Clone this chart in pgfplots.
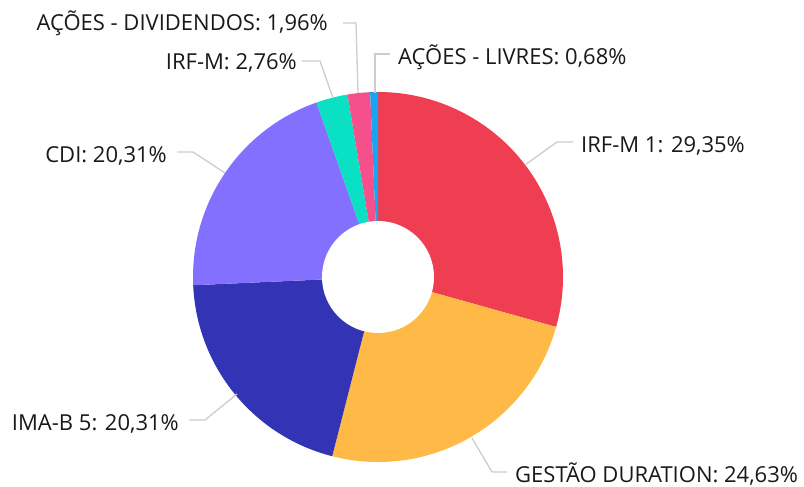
\documentclass[border=0pt]{standalone}
\usepackage{pgfplots}
\pgfplotsset{compat=1.18}
\usepackage{pgfplotstable}
\usepackage{fontspec}
\setmainfont{Open Sans}
\definecolor{c0}{RGB}{239,62,82}
\definecolor{c1}{RGB}{255,185,70}
\definecolor{c2}{RGB}{51,51,181}
\definecolor{c3}{RGB}{132,112,255}
\definecolor{c4}{RGB}{10,224,196}
\definecolor{c5}{RGB}{245,80,140}
\definecolor{c6}{RGB}{22,165,240}
\definecolor{leader}{RGB}{204,204,204}

\pgfplotstableread{
idx value
0 29.35
1 24.63
2 20.31
3 20.31
4 2.76
5 1.96
6 0.68
}\piedata

\def\cx{378}\def\cy{210}\def\Ro{185}\def\Ri{56}
\newcommand\slice[3]{\fill[#3] (axis cs:\cx,\cy) -- ++(#1:\Ro bp) arc[start angle=#1,end angle=#2,radius=\Ro bp] -- cycle;}
\tikzset{lbl/.style={inner sep=0pt, font=\fontsize{22bp}{26bp}\selectfont, text=black!90}}

\begin{document}
\begin{tikzpicture}
\gdef\pieslices{}%
\xdef\curang{90}%
\foreach \i in {0,...,6}{%
  \pgfplotstablegetelem{\i}{value}\of\piedata
  \pgfmathsetmacro\endang{\curang-3.6*\pgfplotsretval}%
  \xdef\pieslices{\unexpanded\expandafter{\pieslices}\noexpand\slice{\curang}{\endang}{c\i}}%
  \global\let\curang\endang
}
\begin{axis}[
  x=1bp, y=1bp, scale only axis, disabledatascaling,
  xmin=0, xmax=804, ymin=0, ymax=487,
  hide axis, clip=false,
]
\path (axis cs:0,0) rectangle (axis cs:804,487);
\pieslices
\fill[white] (axis cs:\cx,\cy) circle[radius=\Ri bp];

\begin{scope}[leader, line width=1.3bp]
\draw (axis cs:525,322) -- (axis cs:557,345) -- (axis cs:573,345);
\draw (axis cs:472,49) -- (axis cs:492,15) -- (axis cs:507,15);
\draw (axis cs:237,93) -- (axis cs:205,67) -- (axis cs:189,67);
\draw (axis cs:225,314) -- (axis cs:193,335) -- (axis cs:177,335);
\draw (axis cs:333,389) -- (axis cs:320,426) -- (axis cs:302,426);
\draw (axis cs:358,394) -- (axis cs:356,464) -- (axis cs:343,464);
\draw (axis cs:375,394) -- (axis cs:375,433) -- (axis cs:390,433);
\end{scope}

\node[lbl, anchor=base west] at (axis cs:581,334) {IRF-M 1: 29,35\%};
\node[lbl, anchor=base west] at (axis cs:515,4) {GESTÃO DURATION: 24,63\%};
\node[lbl, anchor=base east] at (axis cs:179,56) {IMA-B 5: 20,31\%};
\node[lbl, anchor=base east] at (axis cs:167,324) {CDI: 20,31\%};
\node[lbl, anchor=base east] at (axis cs:297,417) {IRF-M: 2,76\%};
\node[lbl, anchor=base east] at (axis cs:328,456) {AÇÕES - DIVIDENDOS: 1,96\%};
\node[lbl, anchor=base west] at (axis cs:398,422) {AÇÕES - LIVRES: 0,68\%};
\end{axis}
\end{tikzpicture}
\end{document}
